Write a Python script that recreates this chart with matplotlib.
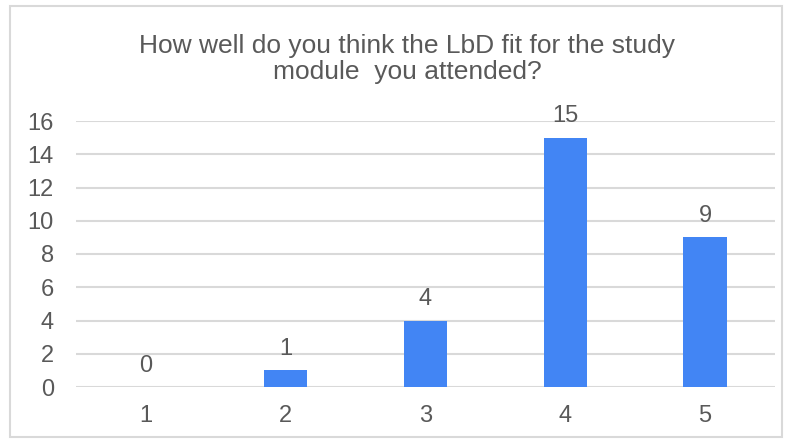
import matplotlib.pyplot as plt
from matplotlib.patches import Rectangle

plt.rcParams['font.family'] = ['Liberation Sans', 'DejaVu Sans']

categories = ["1", "2", "3", "4", "5"]
counts = [0, 1, 4, 15, 9]
yticks = [0, 2, 4, 6, 8, 10, 12, 14, 16]
title = "How well do you think the LbD fit for the study\nmodule  you attended?"

text_color = "#595959"
grid_color = "#d9d9d9"
bar_color = "#4285f4"

fig = plt.figure(figsize=(7.9, 4.41), dpi=100)
fig.patches.append(Rectangle((10 / 790, 4 / 441), 772 / 790, 431 / 441,
                             transform=fig.transFigure, fill=False,
                             edgecolor=grid_color, linewidth=1.5))
ax = fig.add_axes([76 / 790, 1 - 387 / 441, 699 / 790, 266 / 441])

x = range(len(categories))
bars = ax.bar(x, counts, width=0.31, color=bar_color, zorder=3)
for xi, v in zip(x, counts):
    ax.annotate(str(v), (xi, v), xytext=(0, 7.5), textcoords="offset points",
                ha="center", va="bottom", fontsize=17, color=text_color)

ax.set_xlim(-0.5, len(categories) - 0.5)
ax.set_ylim(0, 16)
ax.set_xticks(list(x))
ax.set_xticklabels(categories)
ax.set_yticks(yticks)
ax.tick_params(axis="both", length=0, labelsize=17, colors=text_color)
ax.tick_params(axis="x", pad=13)
ax.tick_params(axis="y", pad=16)
ax.grid(axis="y", color=grid_color, linewidth=1.5, zorder=0)
for s in ax.spines.values():
    s.set_visible(False)

fig.text(407 / 790, 1 - 59 / 441, title, ha="center", va="center",
         fontsize=19, color=text_color, linespacing=1.1)

fig.savefig("out.png", dpi=100)
